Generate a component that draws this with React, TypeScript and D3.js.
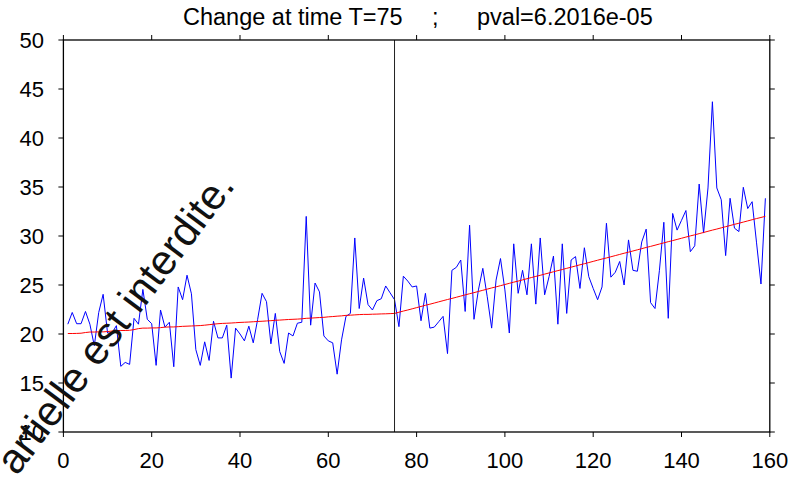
import React from 'react';
import * as d3 from 'd3';

const W = 799;
const H = 477;

// Observed series (x = 1..159)
const observed = [
  21.0, 22.2, 21.05, 21.05, 22.3, 21.0, 18.8, 22.2, 24.05, 20.1,
  20.1, 20.85, 16.7, 17.1, 16.9, 21.6, 21.0, 24.55, 21.5, 21.05,
  16.8, 22.45, 20.7, 21.2, 16.66, 24.8, 23.5, 26.0, 24.1, 18.4,
  16.8, 19.2, 17.3, 21.3, 19.6, 19.6, 20.9, 15.5, 20.6, 20.0,
  19.3, 20.8, 19.1, 21.5, 24.15, 23.3, 19.0, 22.1, 18.2, 17.0,
  20.1, 19.8, 21.1, 21.2, 32.0, 20.9, 25.2, 24.3, 19.8, 19.3,
  19.1, 15.9, 19.4, 21.8, 22.1, 29.8, 22.6, 25.7, 23.0, 22.45,
  23.4, 23.6, 24.9, 24.2, 23.5, 20.75, 25.9, 25.4, 24.8, 24.9,
  21.35, 24.15, 20.6, 20.7, 21.25, 21.8, 18.0, 26.5, 26.8, 27.55,
  22.3, 31.1, 21.5, 24.5, 26.7, 23.8, 20.6, 25.5, 27.7, 24.5,
  20.1, 29.2, 24.15, 26.5, 24.0, 29.2, 23.05, 29.8, 24.0, 25.85,
  27.95, 21.0, 29.2, 22.1, 27.55, 27.9, 24.65, 28.8, 25.85, 24.65,
  23.5, 24.8, 31.3, 25.8, 26.3, 27.4, 25.0, 29.6, 26.5, 26.4,
  29.4, 30.7, 23.2, 22.6, 26.5, 31.4, 21.6, 32.3, 30.6, 31.6,
  32.6, 28.4, 29.0, 35.3, 30.3, 34.9, 43.7, 34.9, 33.7, 28.0,
  33.85, 30.8, 30.45, 34.97, 32.8, 33.5, 29.3, 25.1, 33.85,
];

// Estimated mean (red)
const trend = [
  20.05, 20.05, 20.06, 20.08, 20.15, 20.2, 20.2, 20.22, 20.22, 20.25,
  20.3, 20.35, 20.36, 20.36, 20.38, 20.45, 20.55, 20.6, 20.6, 20.62,
  20.62, 20.65, 20.7, 20.72, 20.72, 20.75, 20.78, 20.8, 20.82, 20.84,
  20.86, 20.9, 20.95, 21.0, 21.05, 21.08, 21.1, 21.12, 21.15, 21.18,
  21.2, 21.22, 21.25, 21.28, 21.3, 21.33, 21.36, 21.4, 21.42, 21.45,
  21.48, 21.5, 21.52, 21.55, 21.6, 21.62, 21.65, 21.68, 21.7, 21.75,
  21.78, 21.82, 21.85, 21.9, 21.92, 21.95, 21.98, 22.0, 22.0, 22.02,
  22.03, 22.05, 22.06, 22.08, 22.1, 22.22, 22.34, 22.45, 22.57, 22.69,
  22.81, 22.93, 23.04, 23.16, 23.28, 23.4, 23.52, 23.63, 23.75, 23.87,
  23.99, 24.11, 24.22, 24.34, 24.46, 24.58, 24.7, 24.81, 24.93, 25.05,
  25.17, 25.29, 25.4, 25.52, 25.64, 25.76, 25.88, 25.99, 26.11, 26.23,
  26.35, 26.47, 26.58, 26.7, 26.82, 26.94, 27.06, 27.17, 27.29, 27.41,
  27.53, 27.65, 27.76, 27.88, 28.0, 28.12, 28.24, 28.35, 28.47, 28.59,
  28.71, 28.83, 28.94, 29.06, 29.18, 29.3, 29.42, 29.53, 29.65, 29.77,
  29.89, 30.01, 30.12, 30.24, 30.36, 30.48, 30.6, 30.71, 30.83, 30.95,
  31.07, 31.19, 31.3, 31.42, 31.54, 31.66, 31.78, 31.89, 32.01,
];

const changeTime = 75;
const xTickValues = [0, 20, 40, 60, 80, 100, 120, 140, 160];
const yTickValues = [10, 15, 20, 25, 30, 35, 40, 45, 50];
const titleLeft = 'Change at time T=75';
const titleSep = ';';
const titleRight = 'pval=6.2016e-05';
const watermark = 'artielle est interdite.';

const FONT = '"Liberation Sans", Arial, Helvetica, sans-serif';

export default function App() {
  const x = d3.scaleLinear().domain([0, 160]).range([63.4, 769.8]);
  const y = d3.scaleLinear().domain([10, 50]).range([432, 40]);

  const line = d3
    .line<number>()
    .x((_, i) => x(i + 1))
    .y((d) => y(d));

  const [x0, x1] = x.range();
  const [y0, y1] = y.range();
  const tk = 5;

  return (
    <svg
      width={W}
      height={H}
      style={{ position: 'absolute', left: 0, top: 0, background: '#fff' }}
      fontFamily={FONT}
    >
      <rect x={0} y={0} width={W} height={H} fill="#fff" />
      {/* data */}
      <path d={line(observed) || ''} fill="none" stroke="#0000ff" strokeWidth={1} />
      <path d={line(trend) || ''} fill="none" stroke="#ff0000" strokeWidth={1} />
      <line x1={x(changeTime)} x2={x(changeTime)} y1={y1} y2={y0} stroke="#222" strokeWidth={1} />

      {/* box */}
      <rect x={x0} y={y1} width={x1 - x0} height={y0 - y1} fill="none" stroke="#000" strokeWidth={1.3} />

      {/* x ticks */}
      {xTickValues.map((t) => (
        <g key={'x' + t}>
          <line x1={x(t)} x2={x(t)} y1={y0} y2={y0 + tk} stroke="#000" strokeWidth={1} />
          <line x1={x(t)} x2={x(t)} y1={y1} y2={y1 - tk} stroke="#000" strokeWidth={1} />
          <text x={x(t)} y={468} fontSize={22} textAnchor="middle" fill="#000">
            {t}
          </text>
        </g>
      ))}
      {/* y ticks */}
      {yTickValues.map((t) => (
        <g key={'y' + t}>
          <line x1={x0 - tk} x2={x0} y1={y(t)} y2={y(t)} stroke="#000" strokeWidth={1} />
          <line x1={x1} x2={x1 + tk} y1={y(t)} y2={y(t)} stroke="#000" strokeWidth={1} />
          <text x={44} y={y(t)} dy="0.36em" fontSize={22} textAnchor="end" fill="#000">
            {t}
          </text>
        </g>
      ))}

      {/* title */}
      <text x={183} y={25} fontSize={23.5} fill="#000">{titleLeft}</text>
      <text x={432} y={25} fontSize={23.5} fill="#000">{titleSep}</text>
      <text x={477} y={25} fontSize={23.5} fill="#000">{titleRight}</text>

      {/* watermark */}
      <text
        x={236}
        y={186}
        fontSize={42}
        textAnchor="end"
        fill="#111"
        transform="rotate(-53 236 186)"
      >
        {watermark}
      </text>
    </svg>
  );
}
